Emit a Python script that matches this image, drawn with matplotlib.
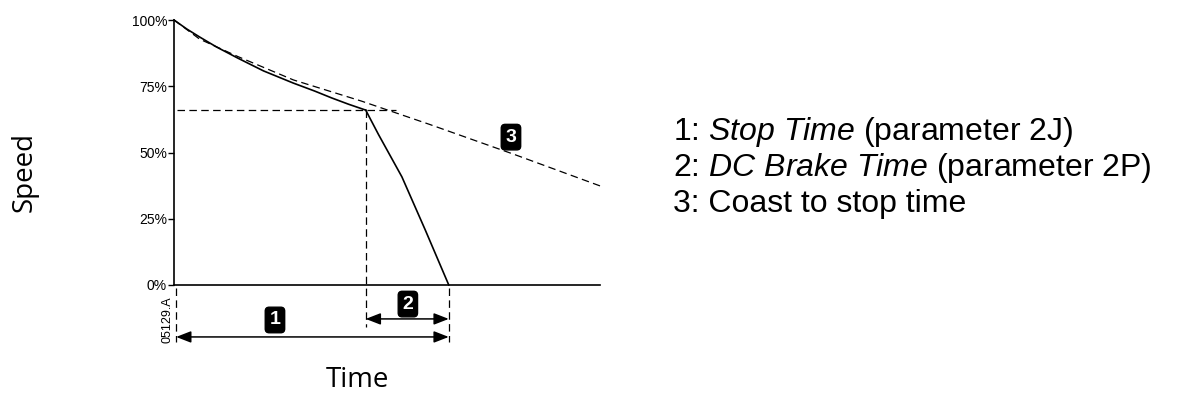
import matplotlib
matplotlib.use('Agg')
import matplotlib.pyplot as plt

# speed curves (x = time units, y = % speed)
stop_x = [0, 3, 6, 10, 15, 21, 28, 33, 37, 41, 45]
stop_y = [100, 96.6, 93.6, 89.8, 85.6, 80.8, 76.2, 73.2, 70.6, 68.2, 66]
brake_x = [45, 48, 53.5, 59, 64.5]
brake_y = [66, 56.8, 40.8, 20.7, 0]
coast_x = [0, 6, 15, 28, 44, 60, 80, 100]
coast_y = [100, 92.8, 86.2, 77.4, 69.4, 60.6, 49.2, 37.4]

knee_x = 45
knee_y = 66
end_x = 64.5
start_x = 0.5

yticks = [0, 25, 50, 75, 100]
ytick_labels = ['0%', '25%', '50%', '75%', '100%']
legend_lines = [
    r'1: $\it{Stop\ Time}$ (parameter 2J)',
    r'2: $\it{DC\ Brake\ Time}$ (parameter 2P)',
    '3: Coast to stop time',
]

plt.rcParams['font.family'] = 'Liberation Sans'
plt.rcParams['mathtext.fontset'] = 'custom'
plt.rcParams['mathtext.it'] = 'Liberation Sans:italic'
plt.rcParams['mathtext.rm'] = 'Liberation Sans'

fig = plt.figure(figsize=(11.78, 3.97), dpi=100)
ax = fig.add_axes([174 / 1178, 1 - 285 / 397, 426 / 1178, 265 / 397])
ax.set_xlim(0, 100)
ax.set_ylim(0, 100)

ax.plot(stop_x, stop_y, color='black', lw=1.2, clip_on=False)
ax.plot(brake_x, brake_y, color='black', lw=1.2, clip_on=False)
ax.plot(coast_x, coast_y, color='black', lw=0.9, ls=(0, (6, 3.5)), clip_on=False)

dash = dict(color='black', lw=0.9, ls=(0, (6, 3.5)), clip_on=False)
ax.plot([0.8, 52], [knee_y, knee_y], **dash)
ax.plot([knee_x, knee_x], [knee_y, -16], **dash)
ax.plot([start_x, start_x], [-1, -21.5], **dash)
ax.plot([end_x, end_x], [-1, -21.5], **dash)

arrow = dict(arrowstyle='<|-|>,head_length=0.9,head_width=0.35', color='black', lw=1.1,
             shrinkA=0, shrinkB=0)
ax.annotate('', xy=(start_x, -19.6), xytext=(end_x, -19.6), arrowprops=arrow, annotation_clip=False)
ax.annotate('', xy=(knee_x, -12.8), xytext=(end_x, -12.8), arrowprops=arrow, annotation_clip=False)

for txt, x, y in [('1', 23.7, -13.2), ('2', 54.9, -7.2), ('3', 79.1, 55.8)]:
    ax.text(x, y, txt, color='white', fontsize=14, fontweight='bold', ha='center', va='center',
            clip_on=False,
            bbox=dict(boxstyle='round,pad=0.22,rounding_size=0.2', fc='black', ec='black'))

ax.text(-1.6, -13, '05129.A', rotation=90, fontsize=9, ha='center', va='center', clip_on=False)

ax.spines['top'].set_visible(False)
ax.spines['right'].set_visible(False)
ax.spines['left'].set_linewidth(1.2)
ax.spines['bottom'].set_linewidth(1.2)
ax.set_xticks([])
ax.set_yticks(yticks)
ax.set_yticklabels(ytick_labels)
ax.tick_params(axis='y', direction='out', length=4, width=1, pad=1, labelsize=10)

fig.text(25 / 1178, 1 - 172 / 397, 'Speed', rotation=90, fontsize=20, family='Open Sans',
         ha='center', va='center')
fig.text(357 / 1178, 1 - 380 / 397, 'Time', fontsize=20, family='Open Sans',
         ha='center', va='center')

for i, line in enumerate(legend_lines):
    fig.text(673 / 1178, 1 - (132 + 36 * i) / 397, line, fontsize=23, ha='left', va='center')

fig.savefig('out.png', dpi=100)
